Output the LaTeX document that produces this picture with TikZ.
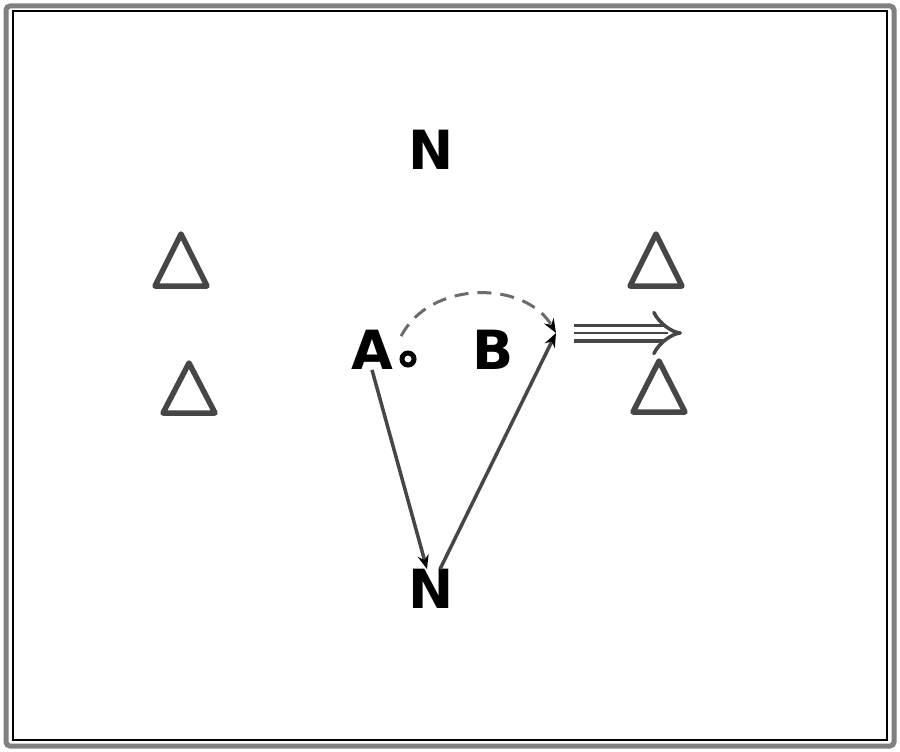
\documentclass[tikz,border=0pt]{standalone}
\usepackage{fontspec}
\setsansfont{DejaVu Sans}
\usepackage{tikz}
\usetikzlibrary{arrows.meta, positioning}
\definecolor{linegray}{RGB}{70,70,70}

\begin{document}
\begin{tikzpicture}[x=1pt,y=-1pt,
    letter/.style={font=\sffamily\bfseries\fontsize{54}{54}\selectfont,inner sep=0pt},
    cone/.style={draw=linegray,line width=5.5pt,line join=round},
    run/.style={draw=linegray,line width=3.5pt,-{Stealth[length=14pt,width=11pt,black]}}]
    \useasboundingbox (0,0) rectangle (900,752);
    % Rahmen
    \draw[gray,line width=5pt,rounded corners=4pt] (6,6) rectangle (894,746);
    \draw[black,line width=1.5pt] (13,11) rectangle (887,740);

    % Buchstaben
    \node[letter] (nTop) at (431,150) {N};
    \node[letter] (nBot) at (431,589) {N};
    \node[letter] (a) at (372,350) {A};
    \node[circle,draw=black,fill=white,line width=5pt,inner sep=0pt,minimum size=12pt] (dot) at (408,359) {};
    \node[letter] (b) at (493,350) {B};

    % Huetchen
    \draw[cone] (181,234) -- ++(-26,52) -- ++(52,0) -- cycle;
    \draw[cone] (189,363) -- ++(-26,50) -- ++(52,0) -- cycle;
    \draw[cone] (656,234) -- ++(-26,52) -- ++(52,0) -- cycle;
    \draw[cone] (659,361) -- ++(-26,51) -- ++(52,0) -- cycle;

    % Laufwege
    \coordinate (bEnd) at (556,333);
    \coordinate (exit) at (682,333);
    \draw[run] (a.south) -- ([xshift=-4pt]nBot.north);
    \draw[run] ([xshift=9pt]nBot.north) -- (bEnd);
    \draw[linegray!80,line width=3pt,dash pattern=on 14pt off 9pt,-{Stealth[length=14pt,width=11pt,black]}]
        ([shift={(8pt,-6pt)}]a.north east) .. controls (430,280) and (525,280) .. (bEnd);
    \draw[linegray,line width=3.5pt,double=white,double distance=12pt,-{Implies[length=12pt]}] ([xshift=18pt]bEnd) -- (exit);
    \draw[linegray,line width=2.5pt] ([xshift=18pt]bEnd) -- ([xshift=-14pt]exit);
\end{tikzpicture}
\end{document}
